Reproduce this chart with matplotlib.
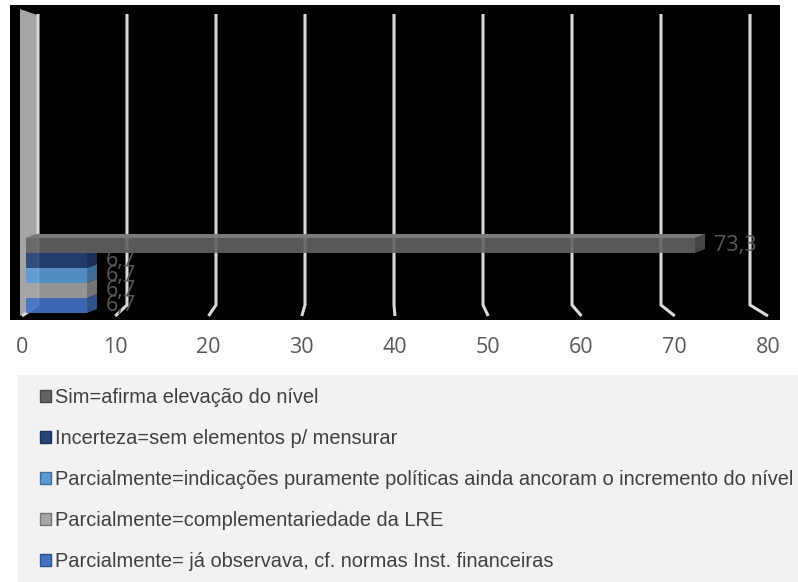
import matplotlib.pyplot as plt
import matplotlib.colors as mcolors
from matplotlib.patches import Polygon, Patch, Rectangle

# Series, listed in legend order (top to bottom)
labels = [
    "Sim=afirma elevação do nível",
    "Incerteza=sem elementos p/ mensurar",
    "Parcialmente=indicações puramente políticas ainda ancoram o incremento do nível",
    "Parcialmente=complementariedade da LRE",
    "Parcialmente= já observava, cf. normas Inst. financeiras",
]
values = [73.3, 6.7, 6.7, 6.7, 6.7]
colors = ["#636363", "#264478", "#5B9BD5", "#A5A5A5", "#4472C4"]
ticks = list(range(0, 81, 10))

W, H = 798, 582
# fake 3D: the bars sit on a middle plane, labels on the front, gridlines on the back
X0, SX = 25.8, 9.13      # bar plane: pixel = X0 + SX * value
PX_Y = 15.0              # pixels per bar slot
Y0 = 305.5               # pixel row of the lowest bar centre


def shade(c, f):
    r, g, b = mcolors.to_rgb(c)
    return (r * f, g * f, b * f)


def tint(c, f):
    r, g, b = mcolors.to_rgb(c)
    return (r + (1 - r) * f, g + (1 - g) * f, b + (1 - b) * f)


def px(p):
    # pixel column -> x data
    return (p - X0) / SX


def front(v):
    return px(22 + 9.325 * v)


def back(v):
    return px(38 + 8.9 * v)


def ypx(p):
    # pixel row -> y data
    return (Y0 - p) / PX_Y


fig = plt.figure(figsize=(W / 100, H / 100), dpi=100)

ax = fig.add_axes([10 / W, 1 - 320 / H, 770 / W, 315 / H])
ax.set_facecolor("black")
ax.set_xlim(px(10), px(780))
ax.set_ylim(ypx(320), ypx(5))

# left wall
wall = Polygon([(px(20), ypx(9)), (px(37), ypx(15)),
                (px(37), ypx(305)), (px(20), ypx(316))],
               closed=True, facecolor="#A6A6A6", edgecolor="none", zorder=1)
ax.add_patch(wall)

# gridlines bending onto the floor
for v in ticks:
    ax.plot([back(v), back(v), front(v)], [ypx(14), ypx(305), ypx(316)],
            color="#D9D9D9", lw=2.2, solid_joinstyle="miter",
            solid_capstyle="butt", zorder=2)

# bars with a bit of depth, drawn bottom to top
dx = 10 / SX
dy = 4 / PX_Y
n = len(values)
for i in range(n - 1, -1, -1):
    pos = n - 1 - i
    v, c = values[i], colors[i]
    z = 3 + pos * 0.1
    ax.barh(pos, v, height=1.0, color=c, alpha=0.9, zorder=z)
    y0, y1 = pos - 0.5, pos + 0.5
    ax.add_patch(Polygon([(v, y0), (v + dx, y0 + dy), (v + dx, y1 + dy), (v, y1)],
                         closed=True, facecolor=shade(c, 0.75), edgecolor="none",
                         alpha=0.95, zorder=z + 0.01))
    if pos == n - 1:
        ax.add_patch(Polygon([(0, y1), (dx, y1 + dy), (v + dx, y1 + dy), (v, y1)],
                             closed=True, facecolor=tint(c, 0.15), edgecolor="none",
                             zorder=z + 0.02))
    txt = f"{v:.1f}".replace(".", ",")
    ax.annotate(txt, xy=(v + dx, pos), xytext=(6.5, 0), textcoords="offset points",
                ha="left", va="center", color="#595959", fontsize=15.5,
                family="Open Sans", zorder=10)

ax.set_xticks([front(t) for t in ticks])
ax.set_xticklabels([str(t) for t in ticks], family="Open Sans")
ax.tick_params(axis="x", length=0, pad=12, labelsize=15.5, labelcolor="#595959")
ax.set_yticks([])
for s in ax.spines.values():
    s.set_visible(False)

# legend panel
fig.patches.append(Rectangle((18 / W, 0), 780 / W, 207 / H, transform=fig.transFigure,
                             facecolor="#F2F2F2", edgecolor="none", zorder=0))
handles = [Patch(facecolor=c, edgecolor=shade(c, 0.7), linewidth=1) for c in colors]
fig.legend(handles, labels, loc="upper left", bbox_to_anchor=(40 / W, 1 - 388 / H),
           frameon=False, prop={"family": "Liberation Sans", "size": 14.4},
           labelcolor="#404040", handlelength=0.55, handleheight=0.55,
           handletextpad=0.2, labelspacing=1.1, borderpad=0, borderaxespad=0)

fig.savefig("out.png", dpi=100)
